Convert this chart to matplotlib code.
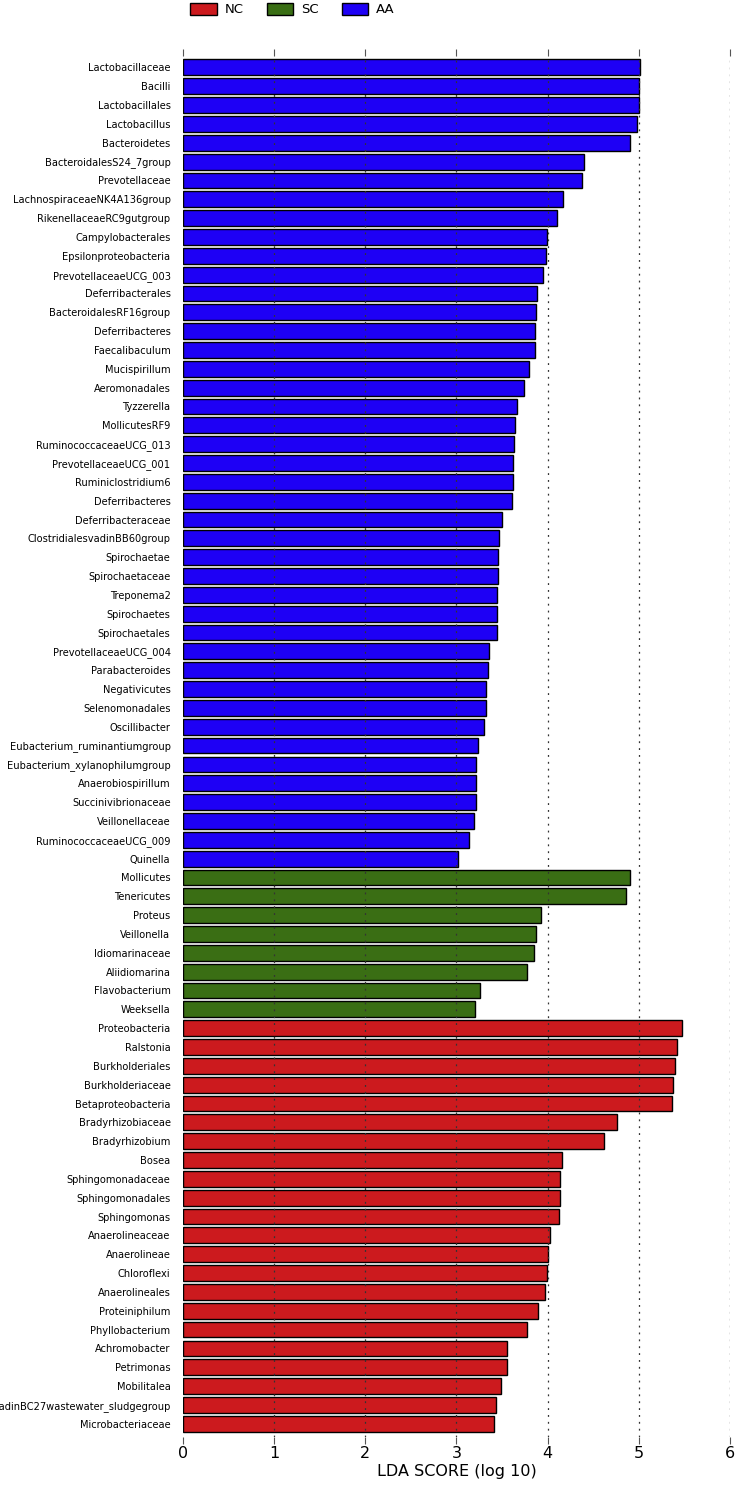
import numpy as np
import matplotlib
matplotlib.use('Agg')
import matplotlib.pyplot as plt
from matplotlib.patches import Patch

# LEfSe LDA scores, listed top to bottom
aa_names = ['Lactobacillaceae', 'Bacilli', 'Lactobacillales', 'Lactobacillus', 'Bacteroidetes',
            'BacteroidalesS24_7group', 'Prevotellaceae', 'LachnospiraceaeNK4A136group',
            'RikenellaceaeRC9gutgroup', 'Campylobacterales', 'Epsilonproteobacteria',
            'PrevotellaceaeUCG_003', 'Deferribacterales', 'BacteroidalesRF16group', 'Deferribacteres',
            'Faecalibaculum', 'Mucispirillum', 'Aeromonadales', 'Tyzzerella', 'MollicutesRF9',
            'RuminococcaceaeUCG_013', 'PrevotellaceaeUCG_001', 'Ruminiclostridium6', 'Deferribacteres',
            'Deferribacteraceae', 'ClostridialesvadinBB60group', 'Spirochaetae', 'Spirochaetaceae',
            'Treponema2', 'Spirochaetes', 'Spirochaetales', 'PrevotellaceaeUCG_004', 'Parabacteroides',
            'Negativicutes', 'Selenomonadales', 'Oscillibacter', 'Eubacterium_ruminantiumgroup',
            'Eubacterium_xylanophilumgroup', 'Anaerobiospirillum', 'Succinivibrionaceae',
            'Veillonellaceae', 'RuminococcaceaeUCG_009', 'Quinella']
aa_lda = [5.01, 5.00, 5.00, 4.98, 4.90, 4.40, 4.38, 4.17, 4.10, 3.99, 3.98, 3.95, 3.88, 3.87, 3.86,
          3.86, 3.80, 3.74, 3.66, 3.64, 3.63, 3.62, 3.62, 3.61, 3.50, 3.47, 3.46, 3.46, 3.45, 3.45,
          3.45, 3.36, 3.35, 3.32, 3.32, 3.30, 3.24, 3.22, 3.22, 3.22, 3.19, 3.14, 3.02]

sc_names = ['Mollicutes', 'Tenericutes', 'Proteus', 'Veillonella', 'Idiomarinaceae', 'Aliidiomarina',
            'Flavobacterium', 'Weeksella']
sc_lda = [4.90, 4.86, 3.93, 3.87, 3.85, 3.77, 3.26, 3.20]

nc_names = ['Proteobacteria', 'Ralstonia', 'Burkholderiales', 'Burkholderiaceae', 'Betaproteobacteria',
            'Bradyrhizobiaceae', 'Bradyrhizobium', 'Bosea', 'Sphingomonadaceae', 'Sphingomonadales',
            'Sphingomonas', 'Anaerolineaceae', 'Anaerolineae', 'Chloroflexi', 'Anaerolineales',
            'Proteiniphilum', 'Phyllobacterium', 'Achromobacter', 'Petrimonas', 'Mobilitalea',
            'ClostridialesvadinBC27wastewater_sludgegroup', 'Microbacteriaceae']
nc_lda = [5.47, 5.42, 5.40, 5.38, 5.36, 4.76, 4.62, 4.16, 4.14, 4.14, 4.13, 4.03, 4.00, 3.99, 3.97,
          3.89, 3.77, 3.55, 3.55, 3.49, 3.43, 3.41]

col = {'NC': '#cc1a1e', 'SC': '#3a6e14', 'AA': '#1e00f5'}

names = aa_names + sc_names + nc_names
lda = aa_lda + sc_lda + nc_lda
groups = ['AA'] * len(aa_names) + ['SC'] * len(sc_names) + ['NC'] * len(nc_names)
n = len(names)
ypos = np.arange(n)[::-1]

fig = plt.figure(figsize=(7.35, 14.88), dpi=100)
ax = fig.add_axes([0.249, 0.0343, 0.744, 0.928])

ax.barh(ypos, lda, height=0.84, color=[col[g] for g in groups],
        edgecolor='black', linewidth=1.0, zorder=2)

ax.set_yticks(ypos)
ax.set_yticklabels(names, fontsize=7.1)
ax.tick_params(axis='y', length=0, pad=9)
ax.set_ylim(-0.7, n - 1 + 0.6)

ax.set_xlim(0, 6)
ax.set_xticks(range(7))
ax.tick_params(axis='x', which='both', top=True, bottom=True, direction='out',
               length=5, color='#555555', labelsize=11.5, pad=1.5)
for v in range(1, 7):
    ax.axvline(v, color='#333333', linestyle=(0, (1.5, 4)), linewidth=0.9, zorder=3)
for s in ax.spines.values():
    s.set_visible(False)
ax.set_xlabel('LDA SCORE (log 10)', fontsize=11.5, labelpad=2)

handles = [Patch(facecolor=col[g], edgecolor='black', label=g) for g in ['NC', 'SC', 'AA']]
fig.legend(handles=handles, loc='upper left', bbox_to_anchor=(0.243, 1.006), ncol=3, frameon=False,
           fontsize=9.5, handlelength=2.0, handleheight=1.0, columnspacing=1.75, handletextpad=0.6)

fig.savefig('out.png', dpi=100)
